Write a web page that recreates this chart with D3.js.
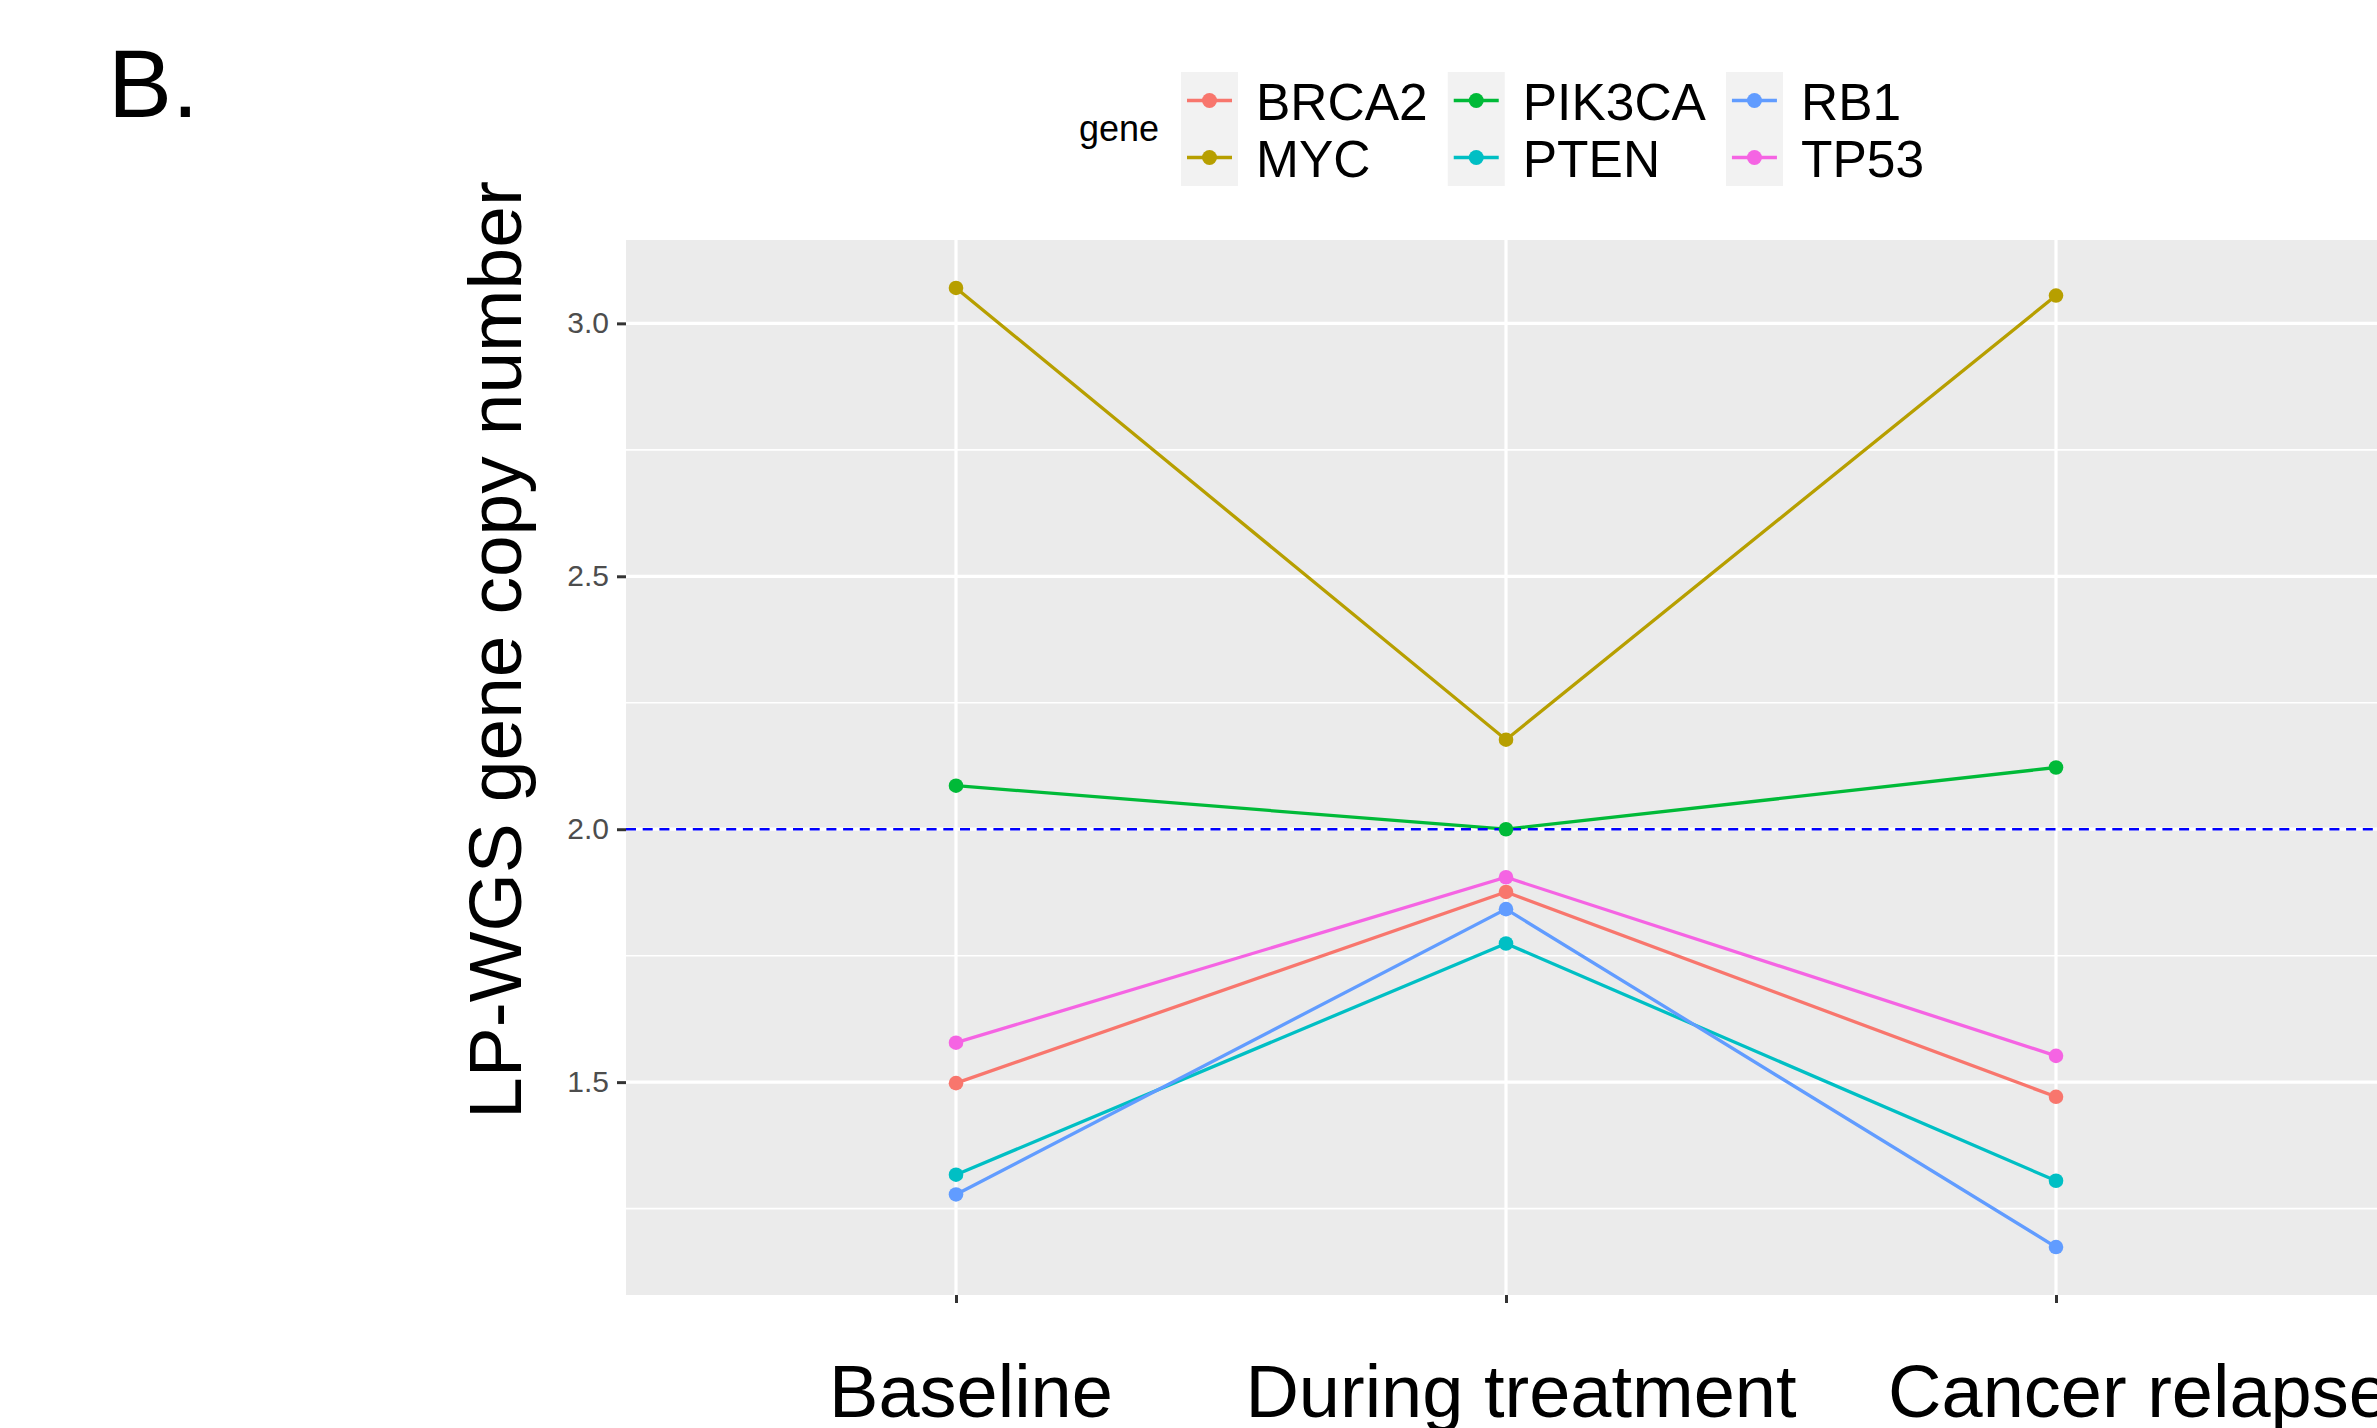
<!DOCTYPE html>
<html>
<head>
<meta charset="utf-8">
<script src="https://cdn.jsdelivr.net/npm/d3@7"></script>
<style>
  body { margin: 0; background: #fff; }
  svg { display: block; font-family: "Liberation Sans", Arial, sans-serif; }
</style>
</head>
<body>
<svg id="chart" width="2377" height="1428"></svg>
<script>
// timepoints on the x axis
var stages = ['Baseline', 'During treatment', 'Cancer relapse'];

// genes, in legend order
var genes = ['BRCA2', 'MYC', 'PIK3CA', 'PTEN', 'RB1', 'TP53'];
var geneColors = ['#F8766D', '#B79F00', '#00BA38', '#00BFC4', '#619CFF', '#F564E3'];

// copy number per gene, one value per stage
var brca2 = [1.498, 1.876, 1.471];
var myc = [3.070, 2.177, 3.055];
var pik3ca = [2.086, 2.000, 2.122];
var pten = [1.317, 1.774, 1.305];
var rb1 = [1.278, 1.842, 1.174];
var tp53 = [1.578, 1.905, 1.552];

var yTicks = [1.5, 2.0, 2.5, 3.0];
var yMinor = [1.25, 1.75, 2.25, 2.75];
var refLine = 2.0;

var values = [brca2, myc, pik3ca, pten, rb1, tp53];
var series = genes.map((g, i) => ({
  gene: g,
  color: geneColors[i],
  points: stages.map((s, j) => ({stage: s, value: values[i][j]}))
}));

var panel = {left: 626, top: 240, right: 2386, bottom: 1295};

// the x labels sit a little right of their ticks in the original
var labelShift = [15, 15, 83];

var svg = d3.select('#chart');

// ggplot style 5% expansion on the continuous axis
var all = values.flat();
var lo = d3.min(all), hi = d3.max(all), pad = (hi - lo) * 0.05;

var x = d3.scalePoint().domain(stages).range([panel.left, panel.right]).padding(0.6);
var y = d3.scaleLinear().domain([lo - pad, hi + pad]).range([panel.bottom, panel.top]);

// panel background
svg.append('rect')
   .attr('x', panel.left)
   .attr('y', panel.top)
   .attr('width', panel.right - panel.left)
   .attr('height', panel.bottom - panel.top)
   .attr('fill', '#EBEBEB');

// minor gridlines
svg.append('g').selectAll('line')
   .data(yMinor)
   .enter()
   .append('line')
   .attr('x1', panel.left).attr('x2', panel.right)
   .attr('y1', d => y(d)).attr('y2', d => y(d))
   .attr('stroke', '#fff')
   .attr('stroke-width', 1.6);

// major gridlines
svg.append('g').selectAll('line')
   .data(yTicks)
   .enter()
   .append('line')
   .attr('x1', panel.left).attr('x2', panel.right)
   .attr('y1', d => y(d)).attr('y2', d => y(d))
   .attr('stroke', '#fff')
   .attr('stroke-width', 3.2);

svg.append('g').selectAll('line')
   .data(stages)
   .enter()
   .append('line')
   .attr('x1', d => x(d)).attr('x2', d => x(d))
   .attr('y1', panel.top).attr('y2', panel.bottom)
   .attr('stroke', '#fff')
   .attr('stroke-width', 3.2);

// gene lines
var line = d3.line().x(d => x(d.stage)).y(d => y(d.value));

svg.append('g').selectAll('path')
   .data(series)
   .enter()
   .append('path')
   .attr('d', d => line(d.points))
   .attr('fill', 'none')
   .attr('stroke', d => d.color)
   .attr('stroke-width', 3.3);

// reference line at copy number 2
svg.append('line')
   .attr('x1', panel.left).attr('x2', panel.right)
   .attr('y1', y(refLine)).attr('y2', y(refLine))
   .attr('stroke', '#0000FF')
   .attr('stroke-width', 2.4)
   .attr('stroke-dasharray', '10,6.7');

// points
series.forEach(s => {
  svg.append('g').selectAll('circle')
     .data(s.points)
     .enter()
     .append('circle')
     .attr('cx', d => x(d.stage))
     .attr('cy', d => y(d.value))
     .attr('r', 7.3)
     .attr('fill', s.color);
});

// y axis
var yAxis = svg.append('g')
   .attr('transform', 'translate(' + panel.left + ',0)')
   .call(d3.axisLeft(y).tickValues(yTicks).tickFormat(d3.format('.1f')).tickSize(9).tickPadding(8));
yAxis.select('.domain').remove();
yAxis.selectAll('.tick line').attr('stroke', '#333333').attr('stroke-width', 3);
yAxis.selectAll('.tick text')
     .attr('fill', '#4D4D4D')
     .attr('font-size', 30)
     .attr('font-family', '"Liberation Sans", Arial, sans-serif');

// x axis
var xAxis = svg.append('g')
   .attr('transform', 'translate(0,' + panel.bottom + ')')
   .call(d3.axisBottom(x).tickSize(8).tickFormat(''));
xAxis.select('.domain').remove();
xAxis.selectAll('.tick line').attr('stroke', '#333333').attr('stroke-width', 3);

svg.append('g').selectAll('text')
   .data(stages)
   .enter()
   .append('text')
   .attr('x', (d, i) => x(d) + labelShift[i])
   .attr('y', 1417)
   .attr('text-anchor', 'middle')
   .attr('font-size', 74)
   .attr('fill', '#000')
   .text(d => d);

// y axis title
svg.append('text')
   .attr('transform', 'translate(521,650) rotate(-90)')
   .attr('text-anchor', 'middle')
   .attr('font-size', 75)
   .attr('fill', '#000')
   .text('LP-WGS gene copy number');

// panel tag
svg.append('text')
   .attr('x', 108)
   .attr('y', 117)
   .attr('font-size', 96)
   .attr('fill', '#000')
   .text('B.');

// legend
var legend = svg.append('g');
legend.append('text')
   .attr('x', 1079)
   .attr('y', 141)
   .attr('font-size', 36)
   .attr('fill', '#000')
   .text('gene');

var keySize = 57, keyTop = 72, keyX = 1181;
for (var c = 0; c < 3; c++)
{
  var maxW = 0;
  for (var r = 0; r < 2; r++)
  {
    var i = c * 2 + r;
    var ky = keyTop + r * keySize;
    legend.append('rect')
       .attr('x', keyX).attr('y', ky)
       .attr('width', keySize).attr('height', keySize)
       .attr('fill', '#F2F2F2');
    legend.append('line')
       .attr('x1', keyX + 6).attr('x2', keyX + keySize - 6)
       .attr('y1', ky + keySize / 2).attr('y2', ky + keySize / 2)
       .attr('stroke', geneColors[i])
       .attr('stroke-width', 3.3);
    legend.append('circle')
       .attr('cx', keyX + keySize / 2)
       .attr('cy', ky + keySize / 2)
       .attr('r', 7.5)
       .attr('fill', geneColors[i]);
    var t = legend.append('text')
       .attr('x', keyX + keySize + 18)
       .attr('y', ky + keySize / 2 + 19.5)
       .attr('font-size', 51.5)
       .attr('fill', '#000')
       .text(genes[i]);
    maxW = Math.max(maxW, t.node().getComputedTextLength());
  }
  keyX = keyX + keySize + 18 + maxW + 20;
}
</script>
</body>
</html>
